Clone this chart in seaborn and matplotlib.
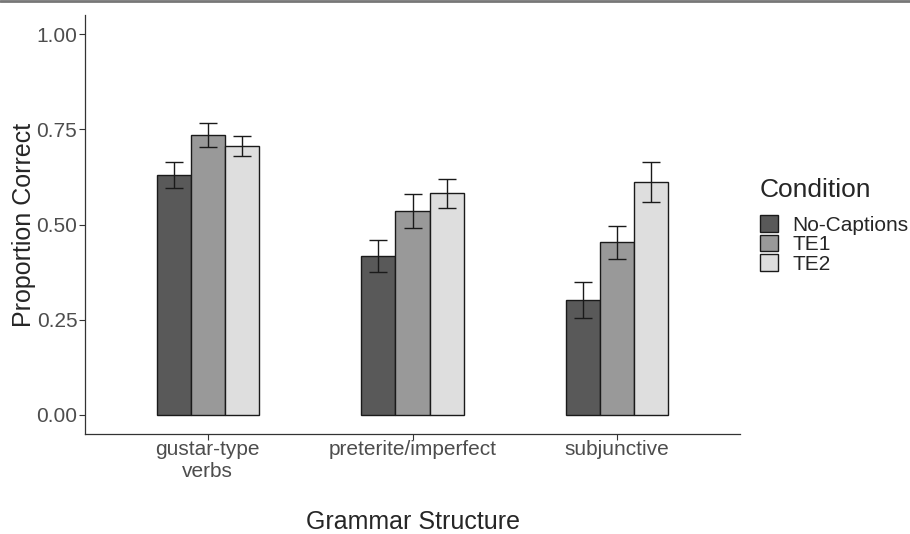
import seaborn as sns
import matplotlib.pyplot as plt
import pandas as pd
from matplotlib.lines import Line2D

# Dados
structures = ['gustar-type\nverbs', 'preterite/imperfect', 'subjunctive']
conditions = ['No-Captions', 'TE1', 'TE2']
mean_nocap = [0.630, 0.416, 0.302]
mean_te1 = [0.735, 0.535, 0.453]
mean_te2 = [0.706, 0.582, 0.612]
se_nocap = [0.035, 0.042, 0.047]
se_te1 = [0.032, 0.044, 0.043]
se_te2 = [0.026, 0.038, 0.052]
colors = ['#595959', '#999999', '#DEDEDE']

df = pd.DataFrame({
    'Structure': structures * 3,
    'Condition': [c for c in conditions for _ in structures],
    'Proportion': mean_nocap + mean_te1 + mean_te2,
    'SE': se_nocap + se_te1 + se_te2,
})

sns.set_theme(style='ticks')
plt.rcParams['font.family'] = ['Liberation Sans', 'DejaVu Sans']

fig = plt.figure(figsize=(9.1, 5.34), dpi=100)
ax = fig.add_axes([85 / 910, 100 / 534, 655 / 910, 419 / 534])

sns.barplot(data=df, x='Structure', y='Proportion', hue='Condition',
            order=structures, hue_order=conditions, palette=colors,
            width=0.5, gap=0, errorbar=None, edgecolor='#1a1a1a',
            linewidth=1, saturation=1, ax=ax)

# barras de erro no centro de cada barra
bars = [p for p in ax.patches if p.get_height() > 0]
for bar, (_, row) in zip(bars, df.iterrows()):
    cx = bar.get_x() + bar.get_width() / 2
    ax.errorbar(cx, row['Proportion'], yerr=row['SE'], color='#1a1a1a',
                capsize=6.5, elinewidth=1, capthick=1)

ax.set_xlim(-0.6, 2.6)
ax.set_ylim(-0.05, 1.05)
ax.set_yticks([0, 0.25, 0.5, 0.75, 1.0])
ax.set_yticklabels(['0.00', '0.25', '0.50', '0.75', '1.00'])
ax.tick_params(axis='both', labelsize=15, colors='#333333', length=4,
               width=0.8, labelcolor='#4d4d4d')
ax.tick_params(axis='x', pad=0.5)
ax.tick_params(axis='y', pad=1.5)
for s in ['left', 'bottom']:
    ax.spines[s].set_color('#333333')
    ax.spines[s].set_linewidth(0.9)
sns.despine(ax=ax)

ax.set_xlabel('Grammar Structure', fontsize=18, labelpad=21)
ax.set_ylabel('Proportion Correct', fontsize=18, labelpad=0)

# legenda: título separado para controlar o espaçamento
fig.text(760 / 910, 1 - 190 / 534, 'Condition', fontsize=19, va='center', ha='left')
leg = ax.legend(title=None, loc='upper left', bbox_to_anchor=(752 / 910, 1 - 207 / 534),
                bbox_transform=fig.transFigure, frameon=False, fontsize=15,
                handlelength=0.85, handleheight=0.85,
                labelspacing=0.0, handletextpad=0.7, borderaxespad=0)
for h in leg.legend_handles:
    h.set_edgecolor('#1a1a1a')

fig.add_artist(Line2D([0, 1], [1 - 1 / 534, 1 - 1 / 534], color='#777777', linewidth=2,
                      transform=fig.transFigure))

fig.savefig('out.png', dpi=100)
